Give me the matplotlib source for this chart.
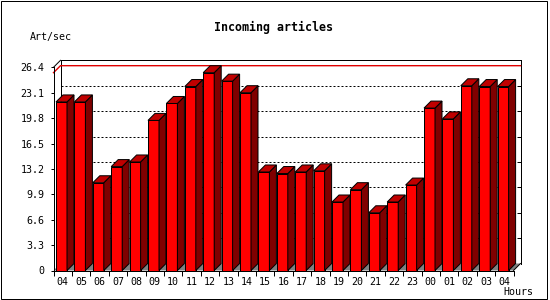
import matplotlib
matplotlib.use("Agg")
import matplotlib.pyplot as plt
from matplotlib.patches import Polygon, Rectangle

hours = ['04', '05', '06', '07', '08', '09', '10', '11', '12', '13', '14', '15', '16',
         '17', '18', '19', '20', '21', '22', '23', '00', '01', '02', '03', '04']
rates = [21.9, 21.9, 11.4, 13.5, 14.1, 19.5, 21.7, 23.9, 25.7, 24.6, 23.1, 12.8, 12.6,
         12.8, 12.95, 8.9, 10.5, 7.5, 8.9, 11.1, 21.1, 19.7, 24.0, 23.9, 23.9]
yticks = [0, 3.3, 6.6, 9.9, 13.2, 16.5, 19.8, 23.1, 26.4]
ytick_labels = ['0', '3.3', '6.6', '9.9', '13.2', '16.5', '19.8', '23.1', '26.4']

W, H = 550, 300
fig = plt.figure(figsize=(W / 100, H / 100), dpi=100)
fig.patch.set_facecolor('white')

# front plot box in pixels
x0, x1 = 53.5, 513.5
y0, y1 = 270.5, 67.3
ax = fig.add_axes([x0 / W, 1 - y0 / H, (x1 - x0) / W, (y0 - y1) / H])
n = len(rates)
ymax = yticks[-1]
ax.set_xlim(0, n)
ax.set_ylim(0, ymax)
ax.set_facecolor('none')

# depth of the 3d look, 7 px each way, in data units
dx = 7 * n / (x1 - x0)
dy = 7 * ymax / (y0 - y1)
lw = 0.72
mono = 'DejaVu Sans Mono'

# gray floor
ax.add_patch(Polygon([(0, 0), (n, 0), (n + dx, dy), (dx, dy)], closed=True,
                     fc='#808080', ec='none', zorder=0.5, clip_on=False))

# back wall
for v in yticks[1:-1]:
    ax.plot([dx, n + dx], [v + dy, v + dy], color='black', lw=lw,
            dashes=(2, 2), zorder=1, clip_on=False)
    ax.plot([n + dx - 0.15, n + dx + 0.05], [v + dy, v + dy], color='black', lw=lw,
            zorder=1, clip_on=False)
ax.plot([dx, n + dx], [ymax + dy, ymax + dy], color='black', lw=lw, zorder=1, clip_on=False)
ax.plot([dx, dx], [dy, ymax + dy], color='black', lw=lw, zorder=1, clip_on=False)
ax.plot([n + dx, n + dx], [dy, ymax + dy], color='black', lw=lw, zorder=1, clip_on=False)
ax.plot([0, dx], [ymax, ymax + dy], color='black', lw=lw, zorder=1, clip_on=False)
ax.plot([n, n + dx], [0, dy], color='black', lw=lw, zorder=1, clip_on=False)

# max line in red
vmax = max(rates)
ax.plot([0, dx, n + dx], [vmax, vmax + dy, vmax + dy], color='#e00000', lw=1.0,
        zorder=1.5, clip_on=False)

# bars
g = 2.5 / 18.4
w = 11 / 18.4
for i, v in enumerate(rates):
    a = i + g
    b = a + w
    front = [(a, 0), (b, 0), (b, v), (a, v)]
    side = [(b, 0), (b + dx, dy), (b + dx, v + dy), (b, v)]
    top = [(a, v), (b, v), (b + dx, v + dy), (a + dx, v + dy)]
    ax.add_patch(Polygon(front, closed=True, fc='#ff0000', ec='black', lw=lw,
                         zorder=3, clip_on=False))
    ax.add_patch(Polygon(side, closed=True, fc='#800000', ec='black', lw=lw,
                         zorder=3, clip_on=False))
    ax.add_patch(Polygon(top, closed=True, fc='#c00000', ec='black', lw=lw,
                         zorder=3, clip_on=False))

# axes
for s in ['top', 'right']:
    ax.spines[s].set_visible(False)
for s in ['left', 'bottom']:
    ax.spines[s].set_linewidth(lw)
    ax.spines[s].set_zorder(4)
ax.set_yticks(yticks)
ax.set_yticklabels(ytick_labels, fontfamily=mono, fontsize=7.2)
ax.tick_params(axis='y', length=2.2, width=lw, pad=4.3)
ax.set_xticks([i + 0.5 for i in range(n)])
ax.set_xticklabels(hours, fontfamily=mono, fontsize=7.2)
ax.set_xticks(range(n + 1), minor=True)
ax.tick_params(axis='x', which='major', length=0, pad=4.5)
ax.tick_params(axis='x', which='minor', length=3.6, width=lw)

fig.text(274 / W, 1 - 27 / H, 'Incoming articles', fontfamily=mono, fontweight='bold',
         fontsize=8.4, ha='center', va='center')
fig.text(30 / W, 1 - 37 / H, 'Art/sec', fontfamily=mono, fontsize=7.2,
         ha='left', va='center')
fig.text(533 / W, 1 - 292 / H, 'Hours', fontfamily=mono, fontsize=7.2,
         ha='right', va='center')

# outer frame
fig.patches.append(Rectangle((0.5 / W, 1 - 298.5 / H), 546.5 / W, 298 / H,
                             transform=fig.transFigure, fill=False, ec='black', lw=lw))

fig.savefig('out.png', dpi=100)
